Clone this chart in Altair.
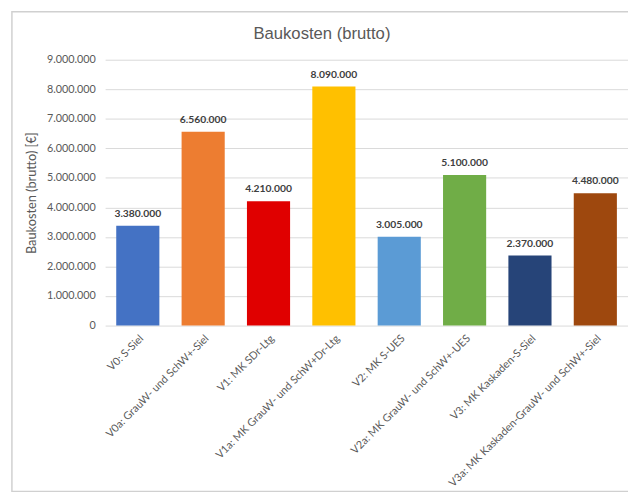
import altair as alt
import pandas as pd

categories = [
    "V0: S-Siel",
    "V0a: GrauW- und SchW+-Siel",
    "V1: MK SDr-Ltg",
    "V1a: MK GrauW- und SchW+Dr-Ltg",
    "V2: MK S-UES",
    "V2a: MK GrauW- und SchW+-UES",
    "V3: MK Kaskaden-S-Siel",
    "V3a: MK Kaskaden-GrauW- und SchW+-Siel",
]
values = [3380000, 6560000, 4210000, 8090000, 3005000, 5100000, 2370000, 4480000]
colors = ["#4472C4", "#ED7D31", "#E00000", "#FFC000", "#5B9BD5", "#70AD47", "#264478", "#9E480E"]
y_ticks = [0, 1000000, 2000000, 3000000, 4000000, 5000000, 6000000, 7000000, 8000000, 9000000]
title_text = "Baukosten (brutto)"

df = pd.DataFrame({"Variante": categories, "Kosten": values})

FONT = "Lato"
GREY = "#595959"

x_enc = alt.X(
    "Variante:N",
    sort=categories,
    title=None,
    scale=alt.Scale(paddingInner=0.34, paddingOuter=0.17),
    axis=alt.Axis(
        labelAngle=-45, labelAlign="right", labelBaseline="top",
        labelFont=FONT, labelFontSize=11, labelColor=GREY,
        ticks=False, domain=False, labelPadding=7, labelLimit=400,
    ),
)
y_enc = alt.Y(
    "Kosten:Q",
    title="Baukosten (brutto) [€]",
    scale=alt.Scale(domain=[0, 9000000], nice=False),
    axis=alt.Axis(
        values=y_ticks, format=",d", ticks=False, domain=False, labelOverlap=False,
        labelFont=FONT, labelFontSize=11, labelColor=GREY, labelPadding=10,
        titleFont=FONT, titleFontSize=13, titleColor=GREY, titleFontWeight="normal",
        titlePadding=8, grid=True, gridColor="#d9d9d9",
    ),
)

bars = alt.Chart(df).mark_bar().encode(
    x=x_enc,
    y=y_enc,
    color=alt.Color("Variante:N", sort=categories,
                    scale=alt.Scale(domain=categories, range=colors), legend=None),
)

labels = alt.Chart(df).mark_text(
    baseline="bottom", dy=-7, font=FONT, fontSize=10.5, fontWeight="bold", color="#404040"
).encode(
    x=x_enc,
    y=y_enc,
    text=alt.Text("Kosten:Q", format=",d"),
)

deco = pd.DataFrame({"t": [title_text]})

frame = alt.Chart(deco).mark_rect(
    fill=None, stroke="#d0d0d0", strokeWidth=1.5, clip=False
).encode(
    x=alt.value(-95), x2=alt.value(545), y=alt.value(-49), y2=alt.value(440)
)

title = alt.Chart(deco).mark_text(
    font="Liberation Sans", fontSize=17, color=GREY, baseline="middle", align="center"
).encode(
    x=alt.value(221), y=alt.value(-26), text="t:N"
)

chart = alt.layer(bars, labels, frame, title).properties(
    width=533,
    height=271,
    background="white",
    autosize=alt.AutoSizeParams(type="none"),
    padding={"left": 99, "top": 48, "right": 0, "bottom": 170},
).configure_view(stroke=None)

chart.save(
    "out.html",
    embed_options={
        "renderer": "svg",
        "actions": False,
        "formatLocale": {"decimal": ",", "thousands": ".", "grouping": [3], "currency": ["", " €"]},
    },
)
